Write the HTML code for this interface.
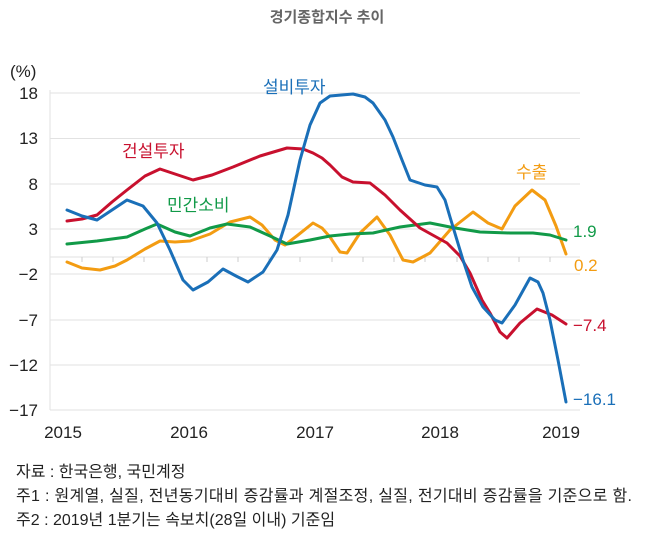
<!DOCTYPE html>
<html><head><meta charset="utf-8"><style>
body{margin:0;background:#fff;}
svg text{font-family:"Liberation Sans","Noto Sans CJK KR",sans-serif;}
</style></head><body>
<svg width="655" height="549" xmlns="http://www.w3.org/2000/svg">
<text x="327" y="22" text-anchor="middle" font-size="15" font-weight="bold" fill="#666">경기종합지수 추이</text>
<text x="10" y="77" font-size="17" fill="#222">(%)</text>
<g stroke="#e2e2e2" stroke-width="1">
<line x1="50" y1="93" x2="580" y2="93"/><line x1="50" y1="138.5" x2="580" y2="138.5"/>
<line x1="50" y1="184" x2="580" y2="184"/><line x1="50" y1="229" x2="580" y2="229"/>
<line x1="50" y1="274" x2="580" y2="274"/><line x1="50" y1="320" x2="580" y2="320"/>
<line x1="50" y1="365" x2="580" y2="365"/><line x1="50" y1="410" x2="580" y2="410"/>
<line x1="50" y1="90" x2="50" y2="410"/>
<line x1="50" y1="257" x2="580" y2="257"/>
</g>
<g stroke="#ccc" stroke-width="1">
<line x1="82" y1="257" x2="82" y2="262"/><line x1="113" y1="257" x2="113" y2="262"/><line x1="144" y1="257" x2="144" y2="262"/><line x1="175" y1="257" x2="175" y2="262"/><line x1="207" y1="257" x2="207" y2="262"/><line x1="238" y1="257" x2="238" y2="262"/><line x1="269" y1="257" x2="269" y2="262"/><line x1="300" y1="257" x2="300" y2="262"/><line x1="332" y1="257" x2="332" y2="262"/><line x1="363" y1="257" x2="363" y2="262"/><line x1="394" y1="257" x2="394" y2="262"/><line x1="425" y1="257" x2="425" y2="262"/><line x1="457" y1="257" x2="457" y2="262"/><line x1="488" y1="257" x2="488" y2="262"/><line x1="519" y1="257" x2="519" y2="262"/><line x1="550" y1="257" x2="550" y2="262"/>
</g>
<g font-size="17" fill="#222" text-anchor="end">
<text x="38" y="99">18</text><text x="38" y="144">13</text><text x="38" y="190">8</text><text x="38" y="235">3</text>
<text x="38" y="280">−2</text><text x="38" y="326">−7</text><text x="38" y="371">−12</text><text x="38" y="416">−17</text>
</g>
<g font-size="17" fill="#222" text-anchor="middle">
<text x="63" y="438">2015</text><text x="189" y="438">2016</text><text x="315" y="438">2017</text><text x="440" y="438">2018</text><text x="561" y="438">2019</text>
</g>
<g fill="none" stroke-width="3" stroke-linejoin="round" stroke-linecap="round">
<polyline stroke="#f39c12" points="67,262 82,268 100,270 115,266 127,260 145,249 160,241 175,242 190,241 210,234 230,222 250,217 262,225 275,240 285,245 298,235 313,223 322,228 330,237 340,252 347,253 360,233 377,217 390,235 403,260 413,262 430,253 450,230 473,212 488,223 502,229 515,206 532,190 545,200 556,226 566,254"/>
<polyline stroke="#119a48" points="67,244 97,241 127,237 145,229 157,224 175,232 190,236 210,228 227,224 250,227 270,236 287,244 310,240 330,236 350,234 373,233 400,227 430,223 455,228 480,232 510,233 533,233 550,235 566,240"/>
<polyline stroke="#c8102e" points="67,221 82,219 97,215 112,202 127,190 145,176 160,169 178,175 193,180 212,175 233,167 260,156 287,148 303,149 313,153 322,158 330,165 342,177 353,182 370,183 385,195 400,210 420,228 447,243 460,256 470,273 482,300 490,313 500,332 507,338 520,323 537,309 552,315 566,324"/>
<polyline stroke="#1a6fb8" points="67,210 82,216 97,220 112,210 127,200 143,206 157,223 170,250 183,280 193,290 208,282 223,269 236,276 248,282 263,272 277,250 288,215 300,160 310,125 320,103 330,96 353,94 365,97 373,103 385,120 393,137 402,160 410,180 425,185 437,187 445,200 450,217 463,260 472,287 483,307 495,320 502,323 515,305 530,278 538,282 543,293 550,320 558,360 566,402"/>
</g>
<g font-size="17">
<text x="263" y="93" fill="#1a6fb8">설비투자</text>
<text x="122" y="157" fill="#c8102e">건설투자</text>
<text x="167" y="211" fill="#119a48">민간소비</text>
<text x="516" y="178" fill="#f39c12">수출</text>
</g>
<g font-size="17">
<text x="573" y="237" fill="#119a48">1.9</text>
<text x="574" y="271" fill="#f39c12">0.2</text>
<text x="573" y="331" fill="#c8102e">−7.4</text>
<text x="573" y="405" fill="#1a6fb8">−16.1</text>
</g>
<g font-size="16" fill="#222">
<text x="16" y="477">자료 : 한국은행, 국민계정</text>
<text x="16" y="501" textLength="616">주1 : 원계열, 실질, 전년동기대비 증감률과 계절조정, 실질, 전기대비 증감률을 기준으로 함.</text>
<text x="16" y="525">주2 : 2019년 1분기는 속보치(28일 이내) 기준임</text>
</g>
</svg>
</body></html>
